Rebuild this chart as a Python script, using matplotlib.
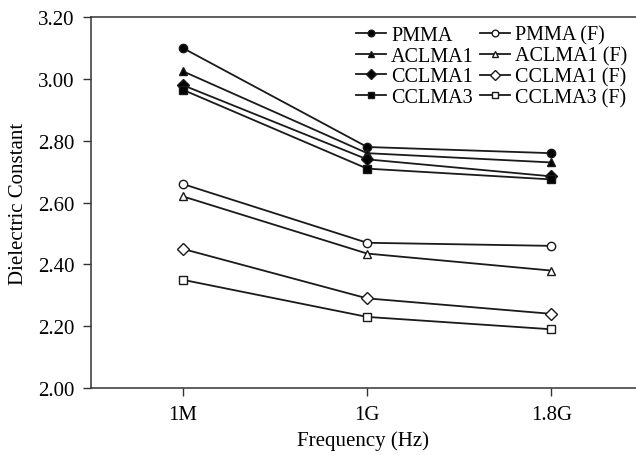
import matplotlib.pyplot as plt
import numpy as np

plt.rcParams['font.family'] = ['Liberation Serif', 'DejaVu Serif']

freqs = ['1M', '1G', '1.8G']
pmma = [3.10, 2.78, 2.76]
aclma1 = [3.025, 2.76, 2.73]
cclma1 = [2.98, 2.74, 2.685]
cclma3 = [2.965, 2.71, 2.675]
pmma_f = [2.66, 2.47, 2.46]
aclma1_f = [2.62, 2.435, 2.38]
cclma1_f = [2.45, 2.29, 2.24]
cclma3_f = [2.35, 2.23, 2.19]

series = [
    ('PMMA', pmma, 'o', 'black'),
    ('ACLMA1', aclma1, '^', 'black'),
    ('CCLMA1', cclma1, 'D', 'black'),
    ('CCLMA3', cclma3, 's', 'black'),
    ('PMMA (F)', pmma_f, 'o', 'white'),
    ('ACLMA1 (F)', aclma1_f, '^', 'white'),
    ('CCLMA1 (F)', cclma1_f, 'D', 'white'),
    ('CCLMA3 (F)', cclma3_f, 's', 'white'),
]

fig = plt.figure(figsize=(6.36, 4.56), dpi=100)
ax = fig.add_axes([0.143, 0.147, 0.857, 0.813])

x = np.arange(len(freqs))
for name, vals, m, fc in series:
    ms = 6.5 if m == 'D' else 6.0
    ax.plot(x, vals, color='#1a1a1a', lw=1.3, marker=m, ms=ms,
            mfc=fc, mec='#1a1a1a', mew=1.0, label=name)

ax.set_xlim(-0.5, 2.46)
ax.set_ylim(2.0, 3.2)
ax.set_xticks(x)
ax.set_xticklabels(freqs)
ax.set_yticks(np.arange(2.0, 3.21, 0.2))
ax.set_yticklabels([f'{v:.2f}' for v in np.arange(2.0, 3.21, 0.2)])
ax.tick_params(labelsize=15, length=6, width=1, color='#333333', direction='out', pad=6)
ax.spines['right'].set_visible(False)
for s in ['left', 'bottom', 'top']:
    ax.spines[s].set_color('#333333')
    ax.spines[s].set_linewidth(1.1)

ax.set_xlabel('Frequency (Hz)', fontsize=15, labelpad=5)
ax.set_ylabel('Dielectric Constant', fontsize=15, labelpad=7)

ax.legend(ncol=2, loc='upper right', bbox_to_anchor=(1.012, 1.018), frameon=False,
          fontsize=14.5, handlelength=1.5, handletextpad=0.25, columnspacing=0.3,
          labelspacing=0.08, borderaxespad=0.35, markerscale=0.8)

fig.savefig('out.png', dpi=100)
